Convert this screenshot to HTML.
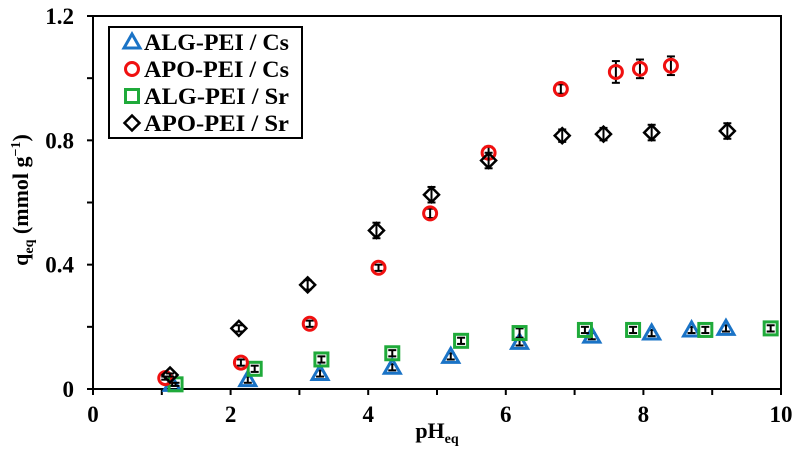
<!DOCTYPE html>
<html><head><meta charset="utf-8"><style>
body{margin:0;background:#fff}
svg text{font-family:"Liberation Serif",serif;font-weight:bold}
</style></head><body>
<svg id="c" width="798" height="451"></svg>
<script>
const xTicks=[0,2,4,6,8,10];
const yTicks=[0,0.4,0.8,1.2];
const triX=[1.15,2.25,3.3,4.35,5.2,6.2,7.25,8.12,8.7,9.2];
const triY=[0.015,0.03,0.05,0.07,0.105,0.15,0.17,0.18,0.19,0.195];
const triE=[0.005,0.01,0.01,0.01,0.01,0.01,0.01,0.01,0.01,0.01];
const cirX=[1.05,2.15,3.15,4.15,4.9,5.75,6.8,7.6,7.95,8.4];
const cirY=[0.035,0.085,0.21,0.39,0.565,0.76,0.965,1.02,1.03,1.04];
const cirE=[0.005,0.01,0.01,0.01,0.015,0.02,0.015,0.035,0.03,0.03];
const sqX=[1.2,2.35,3.32,4.35,5.35,6.2,7.15,7.85,8.9,9.85];
const sqY=[0.015,0.065,0.095,0.115,0.155,0.18,0.19,0.19,0.19,0.195];
const sqE=[0.005,0.01,0.01,0.01,0.01,0.015,0.01,0.01,0.01,0.01];
const diaX=[1.12,2.12,3.12,4.12,4.92,5.75,6.82,7.42,8.12,9.22];
const diaY=[0.045,0.195,0.335,0.51,0.625,0.735,0.815,0.82,0.825,0.83];
const diaE=[0.005,0.01,0.015,0.025,0.025,0.025,0.02,0.02,0.025,0.025];
const NS="http://www.w3.org/2000/svg";
const svg=document.getElementById('c');
const L=93,R=781,T=16,B=389;
const sx=v=>L+(v-0)/10*(R-L);
const sy=v=>B-v/1.2*(B-T);
function mk(tag,a,parent){const e=document.createElementNS(NS,tag);for(const k in a)e.setAttribute(k,a[k]);(parent||svg).appendChild(e);return e;}
const frame=mk('rect',{x:L,y:T,width:R-L,height:B-T,fill:'none',stroke:'#000','stroke-width':2});


for(let i=0;i<=10;i++){const t=mk('line',{x1:sx(i),x2:sx(i),y1:B,y2:B+6,stroke:'#000','stroke-width':2});

}
for(let i=0;i<=6;i++){const v=i*0.2;const t=mk('line',{x1:L-6,x2:L,y1:sy(v),y2:sy(v),stroke:'#000','stroke-width':2});

}
xTicks.forEach(v=>{const t=mk('text',{x:sx(v),y:B+33,'text-anchor':'middle','font-size':23});t.textContent=v;

});
yTicks.forEach(v=>{const t=mk('text',{x:L-19,y:sy(v)+8,'text-anchor':'end','font-size':23});t.textContent=v===0?'0':v.toFixed(1);

});
const xt=mk('text',{x:437,y:438,'text-anchor':'middle','font-size':22});xt.innerHTML='pH<tspan font-size="14" dy="5">eq</tspan>';


const yt=mk('text',{transform:'translate(28,200) rotate(-90)','text-anchor':'middle','font-size':22});yt.innerHTML='q<tspan font-size="14" dy="5">eq</tspan><tspan dy="-5"> (mmol g</tspan><tspan font-size="14" dy="-8">−1</tspan><tspan dy="8">)</tspan>';


function marker(kind,x,y,g){
 if(kind==='tri')return mk('polygon',{points:`${x},${y-8} ${x-8},${y+6} ${x+8},${y+6}`,fill:'none',stroke:'#1a73c6','stroke-width':3},g);
 if(kind==='cir')return mk('circle',{cx:x,cy:y,r:6.5,fill:'none',stroke:'#f01010','stroke-width':3},g);
 if(kind==='sq')return mk('rect',{x:x-6.5,y:y-6.5,width:13,height:13,fill:'none',stroke:'#1faa3a','stroke-width':3},g);
 return mk('polygon',{points:`${x},${y-7.5} ${x+7.5},${y} ${x},${y+7.5} ${x-7.5},${y}`,fill:'none',stroke:'#000','stroke-width':2.5},g);
}
function series(kind,X,Y,E,name){
 const g=mk('g',{});
 
 
 X.forEach((xv,i)=>{const x=sx(xv),y=sy(Y[i]),y1=sy(Y[i]+E[i]),y2=sy(Y[i]-E[i]);
  mk('line',{x1:x,x2:x,y1:y1,y2:y2,stroke:'#000','stroke-width':2},g);
  mk('line',{x1:x-4,x2:x+4,y1:y1,y2:y1,stroke:'#000','stroke-width':2},g);
  mk('line',{x1:x-4,x2:x+4,y1:y2,y2:y2,stroke:'#000','stroke-width':2},g);
  const m=marker(kind,x,y,g);
  
  
 });
}
series('tri',triX,triY,triE,'alg-pei-cs');
series('sq',sqX,sqY,sqE,'alg-pei-sr');
series('cir',cirX,cirY,cirE,'apo-pei-cs');
series('dia',diaX,diaY,diaE,'apo-pei-sr');
const lg=mk('g',{});


mk('rect',{x:109,y:27,width:193,height:111,fill:'#fff',stroke:'#000','stroke-width':2},lg);
const labels=['ALG-PEI / Cs','APO-PEI / Cs','ALG-PEI / Sr','APO-PEI / Sr'];
const kinds=['tri','cir','sq','dia'];
labels.forEach((s,i)=>{const y=42+i*27;marker(kinds[i],132,y,lg);
 const t=mk('text',{x:144,y:y+8,'font-size':23,textLength:145,lengthAdjust:'spacingAndGlyphs'},lg);t.textContent=s;
 
 });
</script>
</body></html>
